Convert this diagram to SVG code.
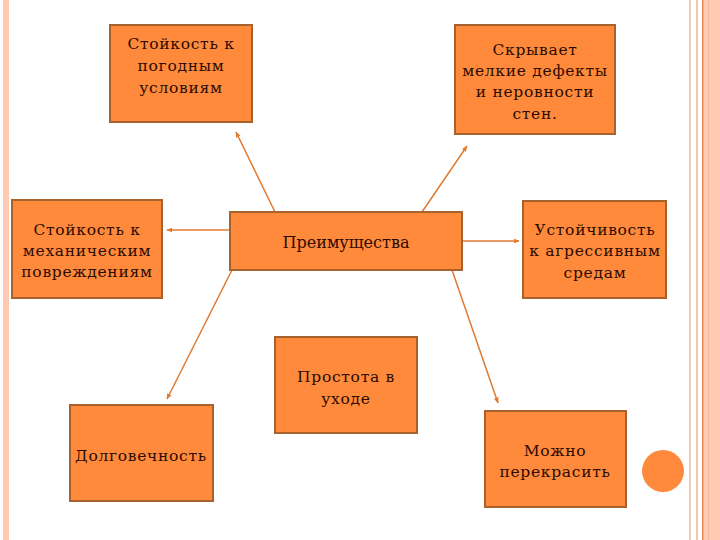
<svg xmlns="http://www.w3.org/2000/svg" width="720" height="540" viewBox="0 0 720 540">
<style>
.box{fill:#FF8A3C;stroke:#A8622E;stroke-width:2}
.t{font-family:"DejaVu Serif","Liberation Serif",serif;font-size:15.5px;letter-spacing:0.7px;fill:#2E0A00;text-anchor:middle}
.c{stroke:#E07A32;stroke-width:1.5;fill:none;marker-end:url(#ah)}
</style>
<defs>
<marker id="ah" viewBox="0 0 10 10" refX="9" refY="5" markerWidth="6" markerHeight="6" orient="auto" markerUnits="userSpaceOnUse">
<path d="M0,1 L10,5 L0,9 Z" fill="#E07A32"/>
</marker>
</defs>
<rect width="720" height="540" fill="#FFFFFF"/>
<g id="frame">
<rect x="3" y="0" width="6" height="540" fill="#FFC8B0"/>
<rect x="689" y="0" width="2" height="540" fill="#EFCDB8"/>
<rect x="696" y="0" width="2" height="540" fill="#F2C7B2"/>
<rect x="702" y="0" width="18" height="540" fill="#FFC9B3"/>
<rect x="702" y="0" width="1.5" height="540" fill="#E8875A"/>
<rect x="708" y="0" width="1" height="540" fill="#F5B89C"/>
<circle cx="663" cy="471" r="21" fill="#FF8A3C"/>
</g>
<g id="connectors">
<line class="c" x1="275" y1="212" x2="236" y2="132"/>
<line class="c" x1="422" y1="212" x2="467" y2="146"/>
<line class="c" x1="230" y1="230" x2="167" y2="230"/>
<line class="c" x1="462" y1="241" x2="519" y2="241"/>
<line class="c" x1="232" y1="270" x2="167" y2="399"/>
<line class="c" x1="452" y1="270" x2="498" y2="403"/>
</g>
<g id="n-center">
<rect class="box" x="230" y="212" width="232" height="58"/>
<text class="t" x="346" y="248" style="font-size:16px;letter-spacing:0">Преимущества</text>
</g>
<g id="n-weather">
<rect class="box" x="110" y="25" width="142" height="97"/>
<text class="t" x="181" y="49">Стойкость к</text>
<text class="t" x="181" y="71">погодным</text>
<text class="t" x="181" y="93">условиям</text>
</g>
<g id="n-hides">
<rect class="box" x="455" y="25" width="160" height="109"/>
<text class="t" x="535" y="55">Скрывает</text>
<text class="t" x="535" y="76">мелкие дефекты</text>
<text class="t" x="535" y="97">и неровности</text>
<text class="t" x="535" y="119">стен.</text>
</g>
<g id="n-mech">
<rect class="box" x="12" y="200" width="150" height="98"/>
<text class="t" x="87" y="235">Стойкость к</text>
<text class="t" x="87" y="256">механическим</text>
<text class="t" x="87" y="277">повреждениям</text>
</g>
<g id="n-aggr">
<rect class="box" x="523" y="201" width="143" height="97"/>
<text class="t" x="595" y="235">Устойчивость</text>
<text class="t" x="595" y="256">к агрессивным</text>
<text class="t" x="595" y="278">средам</text>
</g>
<g id="n-care">
<rect class="box" x="275" y="337" width="142" height="96"/>
<text class="t" x="346" y="382">Простота в</text>
<text class="t" x="346" y="404">уходе</text>
</g>
<g id="n-durable">
<rect class="box" x="70" y="405" width="143" height="96"/>
<text class="t" x="141" y="461">Долговечность</text>
</g>
<g id="n-repaint">
<rect class="box" x="485" y="411" width="141" height="96"/>
<text class="t" x="555" y="456">Можно</text>
<text class="t" x="555" y="477">перекрасить</text>
</g>
</svg>
